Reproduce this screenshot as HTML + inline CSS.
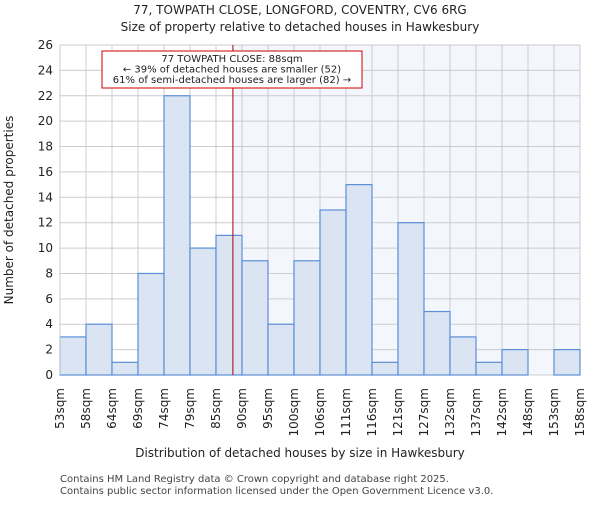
<!DOCTYPE html>
<html><head><meta charset="utf-8"><style>
body{margin:0;background:#fff;font-family:"Liberation Sans","DejaVu Sans",sans-serif;}
svg text{font-family:"DejaVu Sans","Liberation Sans",sans-serif;}
</style></head><body>
<svg id="c" width="600" height="500" xmlns="http://www.w3.org/2000/svg">
<text x="300" y="14" text-anchor="middle" font-size="12" fill="#222">77, TOWPATH CLOSE, LONGFORD, COVENTRY, CV6 6RG</text>
<text x="300" y="31" text-anchor="middle" font-size="12" fill="#222">Size of property relative to detached houses in Hawkesbury</text>
<g id="plot"></g>
<text x="300" y="457" text-anchor="middle" font-size="12" fill="#222">Distribution of detached houses by size in Hawkesbury</text>
<text transform="translate(13,210) rotate(-90)" text-anchor="middle" font-size="12" fill="#222">Number of detached properties</text>
<text x="60" y="482" font-size="10" fill="#444">Contains HM Land Registry data © Crown copyright and database right 2025.</text>
<text x="60" y="494" font-size="10" fill="#444">Contains public sector information licensed under the Open Government Licence v3.0.</text>
</svg>
<script>
const binLabels=["53sqm","58sqm","64sqm","69sqm","74sqm","79sqm","85sqm","90sqm","95sqm","100sqm","106sqm","111sqm","116sqm","121sqm","127sqm","132sqm","137sqm","142sqm","148sqm","153sqm","158sqm"];
const counts=[3,4,1,8,22,10,11,9,4,9,13,15,1,12,5,3,1,2,0,2];
const yTicks=[0,2,4,6,8,10,12,14,16,18,20,22,24,26];
const markerPos=6.65;
const annotation=["77 TOWPATH CLOSE: 88sqm","← 39% of detached houses are smaller (52)","61% of semi-detached houses are larger (82) →"];
const L=60,R=580,T=45,B=375,yMax=26;
const bw=(R-L)/counts.length;
const xs=i=>L+i*bw;
const ys=v=>B-v/yMax*(B-T);
const g=document.getElementById('plot');
const NS="http://www.w3.org/2000/svg";
function mk(t,a){const e=document.createElementNS(NS,t);for(const k in a)e.setAttribute(k,a[k]);g.appendChild(e);return e;}
const mx=xs(markerPos);
let e=mk('rect',{x:mx,y:T,width:R-mx,height:B-T,fill:'#f3f6fd'});


yTicks.forEach(v=>{let l=mk('line',{x1:L,x2:R,y1:ys(v),y2:ys(v),stroke:'#ccc','stroke-width':1});


let t=mk('text',{x:L-7,y:ys(v)+4,'text-anchor':'end','font-size':12,fill:'#222'});t.textContent=v;

});
binLabels.forEach((s,i)=>{let l=mk('line',{x1:xs(i),x2:xs(i),y1:T,y2:B,stroke:'#ccc','stroke-width':1});


let t=mk('text',{transform:`translate(${xs(i)+4},388) rotate(-90)`,'text-anchor':'end','font-size':12,fill:'#222'});t.textContent=s;

});
counts.forEach((v,i)=>{if(v<=0)return;let r=mk('rect',{x:xs(i),y:ys(v),width:bw,height:B-ys(v),fill:'#dae4f3',stroke:'#5b8fd6','stroke-width':1.2});

});
e=mk('line',{x1:mx,x2:mx,y1:T,y2:B,stroke:'#a00','stroke-width':1});


e=mk('rect',{x:102,y:51,width:260,height:37,fill:'#fff',stroke:'#c00','stroke-width':1});


annotation.forEach((s,i)=>{let t=mk('text',{x:232,y:62+i*10.5,'text-anchor':'middle','font-size':10,fill:'#222'});t.textContent=s;

});
e=mk('line',{x1:L,x2:L,y1:T,y2:B,stroke:'#ccc'});


</script>
</body></html>
